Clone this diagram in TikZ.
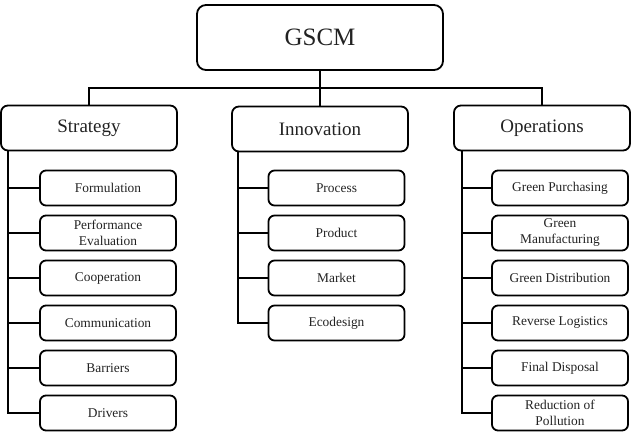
\documentclass[tikz,border=0pt]{standalone}
\usepackage{fontspec}
\setmainfont{Liberation Serif}
\usepackage{tikz}
\usetikzlibrary{positioning, calc}
\definecolor{InkGray}{HTML}{222222}

\begin{document}
\begin{tikzpicture}[x=1pt, y=-1pt, line width=1.8pt,
    rootbox/.style={draw, rounded corners=9pt, minimum width=246pt, minimum height=65pt, font=\fontsize{25}{28}\selectfont, text=InkGray},
    areabox/.style={draw, rounded corners=7pt, minimum width=176pt, minimum height=45pt, font=\fontsize{19}{22}\selectfont, text=InkGray},
    itembox/.style={draw, rounded corners=6pt, minimum width=136pt, minimum height=35pt, inner sep=1pt, align=center, font=\fontsize{13.4}{16}\selectfont, text=InkGray}]
    \useasboundingbox (0,0) rectangle (634,438);

    % top level
    \node[rootbox] (gscm) at (320,37.5) {GSCM};
    \node[areabox] (strategy) at (89,128) {Strategy};
    \node[areabox] (innovation) at (320,129) {Innovation};
    \node[areabox] (operations) at (542,128) {Operations};

    \coordinate (bar) at (0,88);
    \draw (gscm.south) -- (innovation.north);
    \draw (strategy.north) -- (strategy.north |- bar) -- (operations.north |- bar) -- (operations.north);

    % strategy items
    \node[itembox] (formulation) at (108,188) {Formulation};
    \node[itembox] (performance) at (108,233) {Performance\\Evaluation};
    \node[itembox] (cooperation) at (108,278) {Cooperation};
    \node[itembox] (communication) at (108,323) {Communication};
    \node[itembox] (barriers) at (108,368) {Barriers};
    \node[itembox] (drivers) at (108,413) {Drivers};

    \coordinate (sspine) at ([xshift=8pt]strategy.south west);
    \draw (sspine) |- (drivers.west);
    \draw (sspine |- formulation.west) -- (formulation.west);
    \draw (sspine |- performance.west) -- (performance.west);
    \draw (sspine |- cooperation.west) -- (cooperation.west);
    \draw (sspine |- communication.west) -- (communication.west);
    \draw (sspine |- barriers.west) -- (barriers.west);

    % innovation items
    \node[itembox] (process) at (336.5,188) {Process};
    \node[itembox] (product) at (336.5,233) {Product};
    \node[itembox] (market) at (336.5,278) {Market};
    \node[itembox] (ecodesign) at (336.5,323) {Ecodesign};

    \coordinate (ispine) at ([xshift=7pt]innovation.south west);
    \draw (ispine) |- (ecodesign.west);
    \draw (ispine |- process.west) -- (process.west);
    \draw (ispine |- product.west) -- (product.west);
    \draw (ispine |- market.west) -- (market.west);

    % operations items
    \node[itembox] (purchasing) at (560,188) {Green Purchasing};
    \node[itembox] (manufacturing) at (560,233) {Green\\Manufacturing};
    \node[itembox] (distribution) at (560,278) {Green Distribution};
    \node[itembox] (reverse) at (560,323) {Reverse Logistics};
    \node[itembox] (disposal) at (560,368) {Final Disposal};
    \node[itembox] (pollution) at (560,413) {Reduction of\\Pollution};

    \coordinate (ospine) at ([xshift=9pt]operations.south west);
    \draw (ospine) |- (pollution.west);
    \draw (ospine |- purchasing.west) -- (purchasing.west);
    \draw (ospine |- manufacturing.west) -- (manufacturing.west);
    \draw (ospine |- distribution.west) -- (distribution.west);
    \draw (ospine |- reverse.west) -- (reverse.west);
    \draw (ospine |- disposal.west) -- (disposal.west);
\end{tikzpicture}
\end{document}
